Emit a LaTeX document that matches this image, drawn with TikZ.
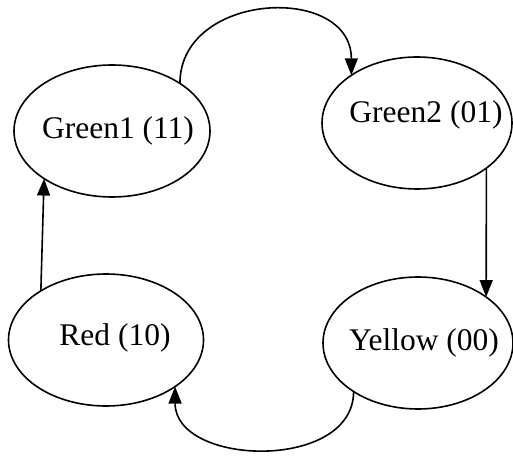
\documentclass[tikz,border=0pt]{standalone}
\usepackage{fontspec}
\setmainfont{Liberation Serif}
\usetikzlibrary{shapes.geometric, arrows.meta}

\begin{document}
\begin{tikzpicture}[x=1pt, y=1pt, line width=1.6pt,
        % Style definitions
        state/.style={
            ellipse,
            draw=black,
            line width=1.6pt,
            inner sep=0pt,
            outer sep=0pt,
            minimum height=132pt
        },
        statetext/.style={
            font=\fontsize{31.5}{36}\selectfont
        },
        arrow/.style={
            -{Triangle[length=17pt, width=13pt]},
            line width=1.6pt
        }
    ]

        \useasboundingbox (0,0) rectangle (513,455);

        % ==========================================
        % States
        % ==========================================
        \node (green1) at (112,324) [state, minimum width=196pt,
            label={[statetext, xshift=6pt]center:Green1 (11)}] {};
        \node (green2) at (417,332) [state, minimum width=190pt,
            label={[statetext, xshift=9pt, yshift=8pt]center:Green2 (01)}] {};
        \node (red) at (106,115) [state, minimum width=195pt,
            label={[statetext, xshift=9pt, yshift=2pt]center:Red (10)}] {};
        \node (yellow) at (418,112) [state, minimum width=190pt,
            label={[statetext, xshift=6pt]center:Yellow (00)}] {};

        % ==========================================
        % Transitions
        % ==========================================
        % Green1 to Green2 (arc over the top)
        \draw [arrow] (green1.35) .. controls +(0,92) and +(0,92) .. (green2.144);

        % Green2 to Yellow
        \draw [arrow] (green2.-33) -- (yellow.34);

        % Yellow to Red (arc under the bottom)
        \draw [arrow] (yellow.217) .. controls +(0,-80) and +(0,-80) .. (red.-34);

        % Red to Green1
        \draw [arrow] (red.143) -- (green1.215);

    \end{tikzpicture}
\end{document}
